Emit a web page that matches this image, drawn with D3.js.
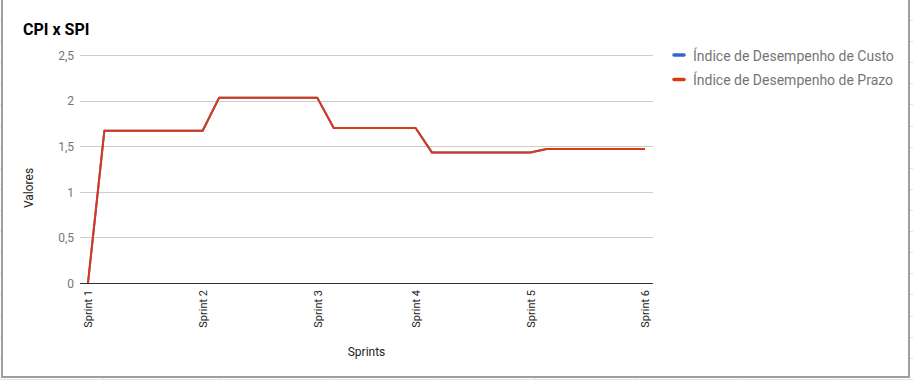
<!DOCTYPE html>
<html>
<head>
<meta charset="utf-8">
<script src="https://cdn.jsdelivr.net/npm/d3@7"></script>
<style>
  html, body { margin: 0; padding: 0; background: #fff; }
  svg { display: block; font-family: Roboto, "Noto Sans", sans-serif; }
</style>
</head>
<body>
<svg id="chart" width="913" height="380"></svg>
<script>
// ---- data ----
const xLabels = [
  "Sprint 1", "", "", "", "", "", "",
  "Sprint 2", "", "", "", "", "", "",
  "Sprint 3", "", "", "", "", "",
  "Sprint 4", "", "", "", "", "", "",
  "Sprint 5", "", "", "", "", "", "",
  "Sprint 6"
];
const cpiValues = [
  0, 1.67, 1.67, 1.67, 1.67, 1.67, 1.67,
  1.67, 2.03, 2.03, 2.03, 2.03, 2.03, 2.03,
  2.03, 1.70, 1.70, 1.70, 1.70, 1.70,
  1.70, 1.43, 1.43, 1.43, 1.43, 1.43, 1.43,
  1.43, 1.47, 1.47, 1.47, 1.47, 1.47, 1.47,
  1.47
];
const spiValues = [
  0, 1.67, 1.67, 1.67, 1.67, 1.67, 1.67,
  1.67, 2.03, 2.03, 2.03, 2.03, 2.03, 2.03,
  2.03, 1.70, 1.70, 1.70, 1.70, 1.70,
  1.70, 1.43, 1.43, 1.43, 1.43, 1.43, 1.43,
  1.43, 1.47, 1.47, 1.47, 1.47, 1.47, 1.47,
  1.47
];
const yTicks = [0, 0.5, 1, 1.5, 2, 2.5];
const seriesNames = ["Índice de Desempenho de Custo", "Índice de Desempenho de Prazo"];
const seriesColors = ["#3366cc", "#dc3912"];
const title = "CPI x SPI";
const xTitle = "Sprints";
const yTitle = "Valores";

// ---- drawing ----
const svg = d3.select("#chart");
const W = 913, H = 380;

// spreadsheet background grid
const bg = svg.append("g");
[20, 41, 62, 83, 104, 126, 147, 168, 189, 210, 231, 252, 273, 294, 316, 337, 358, 379].forEach(y => {
  bg.append("line").attr("x1", 0).attr("x2", W).attr("y1", y + 0.5).attr("y2", y + 0.5)
    .attr("stroke", "#e2e2e2");
});
[103, 220, 333, 434, 535, 636, 737, 838].forEach(x => {
  bg.append("line").attr("x1", x + 0.5).attr("x2", x + 0.5).attr("y1", 0).attr("y2", H)
    .attr("stroke", "#e2e2e2");
});
// chart frame
svg.append("rect").attr("x", 2).attr("y", -2).attr("width", 907).attr("height", 379)
  .attr("fill", "#fff").attr("stroke", "#9e9e9e").attr("stroke-width", 2);

const x = d3.scalePoint().domain(d3.range(xLabels.length)).range([88, 645]);
const y = d3.scaleLinear().domain([0, 2.5]).range([283, 55]);
const plotLeft = 80, plotRight = 653;

// gridlines
svg.append("g").selectAll("line").data(yTicks.filter(d => d !== 0)).join("line")
  .attr("x1", plotLeft).attr("x2", plotRight)
  .attr("y1", d => Math.round(y(d)) + 0.5).attr("y2", d => Math.round(y(d)) + 0.5)
  .attr("stroke", "#cccccc").attr("stroke-width", 1);

// y axis labels
const fmt = d => String(d).replace(".", ",");
const yAxis = d3.axisLeft(y).tickValues(yTicks).tickFormat(fmt).tickSize(0).tickPadding(0);
const gy = svg.append("g").attr("transform", "translate(74,0)").call(yAxis);
gy.select(".domain").remove();
gy.selectAll("text").attr("font-size", 12).attr("fill", "#757575")
  .attr("font-family", "Roboto, sans-serif").attr("dy", "0.35em");

// x axis labels
const xAxis = d3.axisBottom(x)
  .tickValues(d3.range(xLabels.length).filter(i => xLabels[i] !== ""))
  .tickFormat(i => xLabels[i]).tickSize(0);
const gx = svg.append("g").attr("transform", "translate(0,290)").call(xAxis);
gx.select(".domain").remove();
gx.selectAll("text")
  .attr("font-size", 11).attr("fill", "#222").attr("font-family", "Roboto, sans-serif")
  .attr("transform", "rotate(-90)")
  .attr("text-anchor", "end").attr("x", 0).attr("y", 0).attr("dx", 0).attr("dy", "0.35em");

// lines
const line = d3.line().x((d, i) => x(i)).y(d => y(d));
[cpiValues, spiValues].forEach((vals, k) => {
  svg.append("path").datum(vals).attr("d", line)
    .attr("fill", "none").attr("stroke", seriesColors[k]).attr("stroke-width", 2)
    .attr("stroke-linejoin", "round");
});

// baseline
svg.append("line").attr("x1", plotLeft).attr("x2", plotRight)
  .attr("y1", y(0) + 0.5).attr("y2", y(0) + 0.5).attr("stroke", "#333").attr("stroke-width", 1);

// titles
svg.append("text").attr("x", 23).attr("y", 35).text(title)
  .attr("font-size", 16).attr("font-weight", "bold").attr("fill", "#000");
svg.append("text").attr("x", (plotLeft + plotRight) / 2).attr("y", 356).text(xTitle)
  .attr("text-anchor", "middle").attr("font-size", 12).attr("fill", "#222");
svg.append("text").attr("transform", "translate(33,188) rotate(-90)").text(yTitle)
  .attr("text-anchor", "middle").attr("font-size", 12).attr("fill", "#222");

// legend
const lg = svg.append("g");
seriesNames.forEach((name, k) => {
  const cy = 55 + k * 24.5;
  lg.append("line").attr("x1", 674).attr("x2", 684).attr("y1", cy).attr("y2", cy)
    .attr("stroke", seriesColors[k]).attr("stroke-width", 3.5).attr("stroke-linecap", "round");
  lg.append("text").attr("x", 693).attr("y", cy + 5.5).text(name)
    .attr("font-size", 14).attr("fill", "#757575");
});
</script>
</body>
</html>
